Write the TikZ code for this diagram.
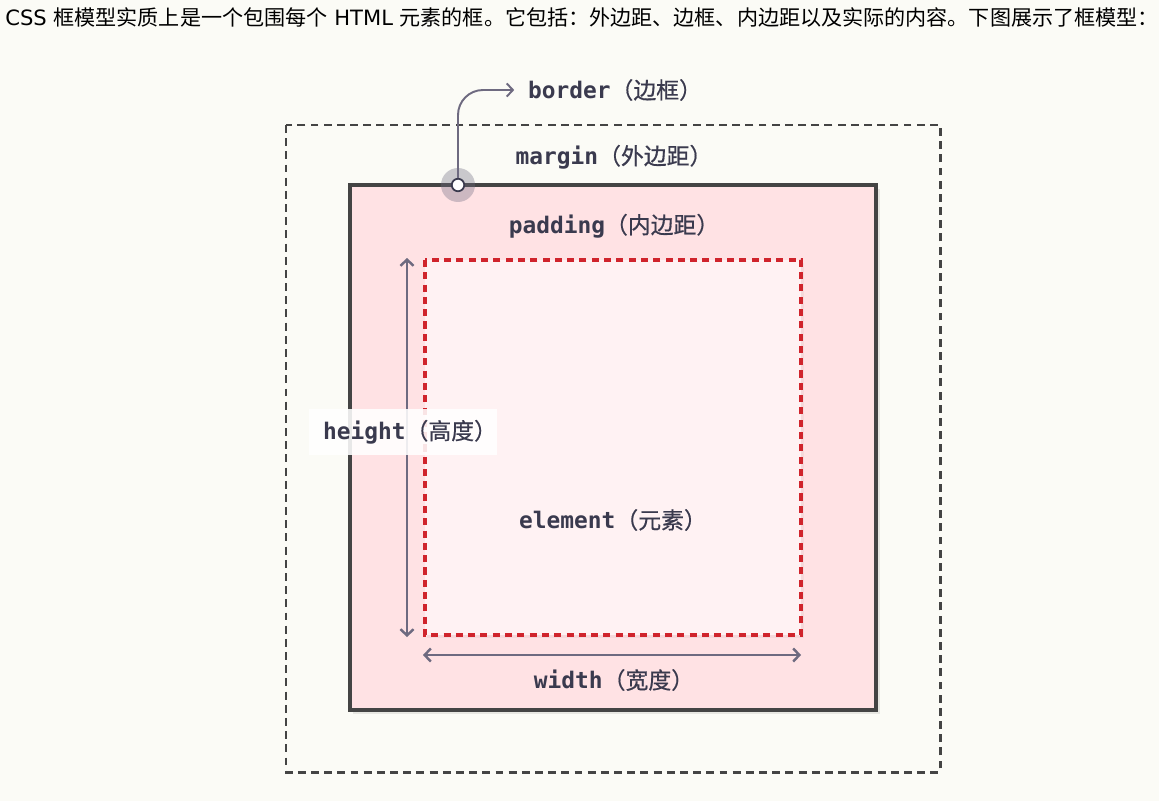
\documentclass[tikz,border=0pt]{standalone}
\usepackage{fontspec}
\setmainfont{DejaVu Sans}
\newfontfamily\cjk{Noto Sans CJK SC}
\newfontfamily\cjklbl{Noto Sans CJK SC}[FakeBold=0.6]
\newfontfamily\monob{DejaVu Sans Mono}
\usetikzlibrary{arrows.meta, positioning}

\definecolor{pagebg}{RGB}{251,251,246}
\definecolor{boxline}{RGB}{68,68,68}
\definecolor{padfill}{RGB}{255,226,228}
\definecolor{elemfill}{RGB}{255,242,243}
\definecolor{elemline}{RGB}{208,36,44}
\definecolor{dimline}{RGB}{110,106,128}
\definecolor{labeltext}{RGB}{58,58,78}

\newcommand{\boxlabel}[2]{{\monob\bfseries #1}{\cjklbl （#2）}}

\begin{document}
\begin{tikzpicture}[x=0.02cm, y=-0.02cm,
    lbl/.style={text=labeltext, font=\fontsize{13}{15}\selectfont, inner sep=2pt},
    dim/.style={draw=dimline, line width=1.4pt, {Straight Barb[length=3.5pt,width=7.5pt]}-{Straight Barb[length=3.5pt,width=7.5pt]}},
    callout/.style={draw=dimline, line width=1.1pt, rounded corners=0.5cm, -{Straight Barb[length=3.5pt,width=7.5pt]}}]
% page
\fill[pagebg] (0,0) rectangle (1159,801);
\useasboundingbox (0,0) rectangle (1159,801);

% intro line
\node[anchor=west, inner sep=0pt, font=\fontsize{12}{14}\selectfont] (intro) at (5,17)
    {CSS {\cjk 框模型实质上是一个包围每个} HTML {\cjk 元素的框。它包括：外边距、边框、内边距以及实际的内容。下图展示了框模型：}};

% margin box
\draw[boxline, line width=1.7pt, dash pattern=on 4.5pt off 3pt] (286,125) rectangle (940,772);

% border box with padding
\fill[black, opacity=0.08] (353,189) rectangle (880,714);
\draw[boxline, fill=padfill, line width=1.8pt] (350,185) rectangle (876,710);

% element box
\fill[black, opacity=0.04] (427,263) rectangle (804,638);
\draw[elemline, fill=elemfill, line width=1.8pt, dash pattern=on 4pt off 3pt] (425,260) rectangle (801,635);

% dimension arrows
\coordinate (htop) at (407,258);
\coordinate (hbot) at (407,637);
\coordinate (wleft) at (423,655);
\coordinate (wright) at (801,655);
\draw[dim] (htop) -- (hbot);
\draw[dim] (wleft) -- (wright);

% labels
\node[lbl] (border) at (615,90) {\boxlabel{border}{边框}};
\node[lbl] (margin) at (614,157) {\boxlabel{margin}{外边距}};
\node[lbl] (padding) at (614,226) {\boxlabel{padding}{内边距}};
\node[lbl] (element) at (613,520) {\boxlabel{element}{元素}};
\node[lbl] (width) at (614,680) {\boxlabel{width}{宽度}};
\fill[white, opacity=0.88] (309,409) rectangle (497,455);
\node[lbl] (height) at (410,432) {\boxlabel{height}{高度}};

% border marker
\fill[dimline, opacity=0.35] (458,185) circle (0.34cm);
\node[circle, draw=labeltext, fill=white, line width=1pt, minimum size=0.25cm, inner sep=0pt] (dot) at (458,185) {};
\draw[callout] (dot.north) |- ([xshift=-0.2cm]border.west);
\end{tikzpicture}
\end{document}
